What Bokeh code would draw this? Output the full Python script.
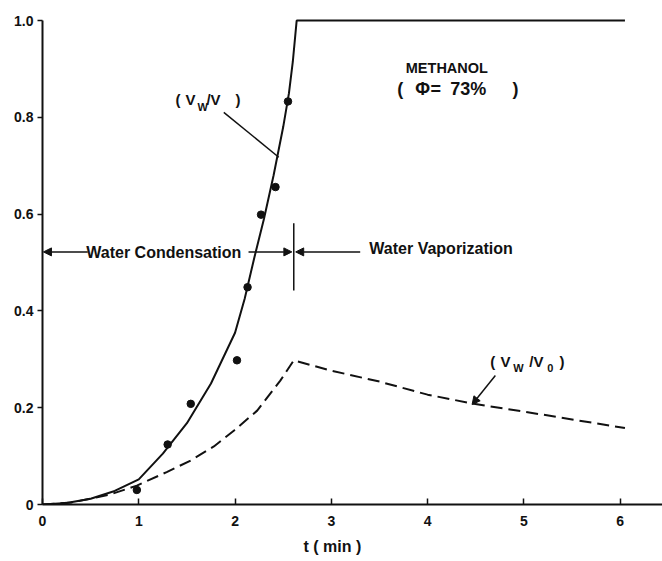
from bokeh.plotting import figure
from bokeh.models import Range1d, FixedTicker, Arrow, NormalHead, Label, Title
from bokeh.embed import file_html
from bokeh.resources import INLINE

# ---- data ----
# model curve V_w / V (solid)
t_fit = [0, 0.25, 0.5, 0.75, 1.0, 1.25, 1.5, 1.75, 2.0, 2.1, 2.2, 2.3, 2.4, 2.5, 2.56, 2.6, 2.64, 6.05]
vw_v_fit = [0, 0.003, 0.012, 0.028, 0.052, 0.105, 0.168, 0.250, 0.355, 0.425, 0.51, 0.59, 0.68, 0.78, 0.85, 0.915, 1.0, 1.0]
# model curve V_w / V_0 (dashed)
t_dash = [0, 0.3, 0.69, 0.98, 1.29, 1.54, 1.78, 1.99, 2.23, 2.47, 2.61, 2.99, 3.5, 4.0, 4.48, 5.0, 6.05]
vw_v0_fit = [0, 0.004, 0.02, 0.039, 0.067, 0.091, 0.12, 0.153, 0.194, 0.256, 0.298, 0.277, 0.254, 0.227, 0.208, 0.192, 0.158]
# measured points V_w / V
t_obs = [0.98, 1.30, 1.54, 2.02, 2.13, 2.27, 2.42, 2.55]
vw_v_obs = [0.030, 0.124, 0.208, 0.298, 0.449, 0.599, 0.656, 0.833]

x_ticks = [0, 1, 2, 3, 4, 5, 6]
x_tick_labels = ["0", "1", "2", "3", "4", "5", "6"]
y_ticks = [0, 0.2, 0.4, 0.6, 0.8, 1.0]
y_tick_labels = ["0", "0.2", "0.4", "0.6", "0.8", "1.0"]

FONT = "Liberation Sans"
INK = "#111111"

p = figure(width=662, height=561, x_range=Range1d(0, 6.44), y_range=Range1d(0, 1.025),
           output_backend="svg", toolbar_location=None,
           min_border_left=42, min_border_right=0, min_border_top=8, min_border_bottom=57)
p.outline_line_color = None
p.xgrid.visible = False
p.ygrid.visible = False
p.background_fill_color = "white"
p.border_fill_color = "white"

xa = p.xaxis[0]
xa.ticker = FixedTicker(ticks=x_ticks)
xa.major_label_overrides = dict(zip(x_ticks, x_tick_labels))
xa.major_tick_in = 6
xa.major_tick_out = 0
xa.minor_tick_in = 0
xa.minor_tick_out = 0
xa.major_label_standoff = 11
xa.axis_line_width = 2
xa.axis_line_color = INK
xa.major_tick_line_color = INK
xa.major_tick_line_width = 1.5
xa.major_label_text_font = FONT
xa.major_label_text_font_style = "bold"
xa.major_label_text_font_size = "14px"
xa.major_label_text_color = INK

ya = p.yaxis[0]
ya.ticker = FixedTicker(ticks=y_ticks)
ya.major_label_overrides = dict(zip(y_ticks, y_tick_labels))
ya.bounds = (0, 1.0)
ya.major_tick_in = 0
ya.major_tick_out = 5
ya.minor_tick_in = 0
ya.minor_tick_out = 0
ya.major_label_standoff = 4
ya.axis_line_width = 2
ya.axis_line_color = INK
ya.major_tick_line_color = INK
ya.major_tick_line_width = 1.5
ya.major_label_text_font = FONT
ya.major_label_text_font_style = "bold"
ya.major_label_text_font_size = "14px"
ya.major_label_text_color = INK

# axis title
p.add_layout(Title(text="t ( min )", align="left", offset=261, standoff=14, text_font=FONT,
                   text_font_style="bold", text_font_size="16px", text_color=INK), "below")

# curves and points
p.line(t_fit, vw_v_fit, line_color=INK, line_width=2)
p.line(t_dash, vw_v0_fit, line_color=INK, line_width=2, line_dash="12 6")
p.scatter(t_obs, vw_v_obs, size=7.5, marker="circle", fill_color=INK, line_color=INK)

# condensation / vaporization arrows
p.add_layout(Arrow(x_start=0.47, y_start=0.522, x_end=0.01, y_end=0.522, line_color=INK, line_width=1.5,
                   end=NormalHead(size=8, fill_color=INK, line_color=INK)))
p.add_layout(Arrow(x_start=2.14, y_start=0.522, x_end=2.59, y_end=0.522, line_color=INK, line_width=1.5,
                   end=NormalHead(size=8, fill_color=INK, line_color=INK)))
p.add_layout(Arrow(x_start=3.30, y_start=0.522, x_end=2.63, y_end=0.522, line_color=INK, line_width=1.5,
                   end=NormalHead(size=8, fill_color=INK, line_color=INK)))
p.segment(x0=[2.61], y0=[0.442], x1=[2.61], y1=[0.581], line_color=INK, line_width=1.5)

def lab(x, y, text, size="14px", align="left"):
    p.add_layout(Label(x=x, y=y, text=text, text_font=FONT, text_font_style="bold",
                       text_font_size=size, text_color=INK, text_align=align, text_baseline="middle"))

lab(1.26, 0.521, "Water Condensation", size="16px", align="center")
lab(4.14, 0.528, "Water Vaporization", size="16px", align="center")
lab(4.20, 0.903, "METHANOL", size="14.5px", align="center")

# ( Φ=73% )
lab(3.686, 0.858, "(", size="18px")
lab(3.873, 0.858, "Φ", size="18px")
lab(4.03, 0.858, "=", size="18px")
lab(4.236, 0.858, "73%", size="18px")
lab(4.881, 0.858, ")", size="18px")

# ( V_w / V ) label with leader
lab(1.381, 0.837, "(", size="15px")
lab(1.485, 0.837, "V", size="15px")
lab(1.610, 0.821, "W", size="11px")
lab(1.703, 0.837, "/V", size="15px")
lab(2.004, 0.837, ")", size="15px")
p.segment(x0=[1.883], y0=[0.8105], x1=[2.454], y1=[0.7176], line_color=INK, line_width=1.5)

# ( V_w / V_0 ) label with arrow
lab(4.652, 0.295, "(", size="15px")
lab(4.756, 0.295, "V", size="15px")
lab(4.891, 0.282, "W", size="11px")
lab(5.057, 0.295, "/V", size="15px")
lab(5.244, 0.282, "0", size="11px")
lab(5.369, 0.295, ")", size="15px")
p.add_layout(Arrow(x_start=4.704, y_start=0.2665, x_end=4.462, y_end=0.2066, line_color=INK, line_width=1.5,
                   end=NormalHead(size=8, fill_color=INK, line_color=INK)))

open("out.html", "w").write(file_html(p, INLINE))
